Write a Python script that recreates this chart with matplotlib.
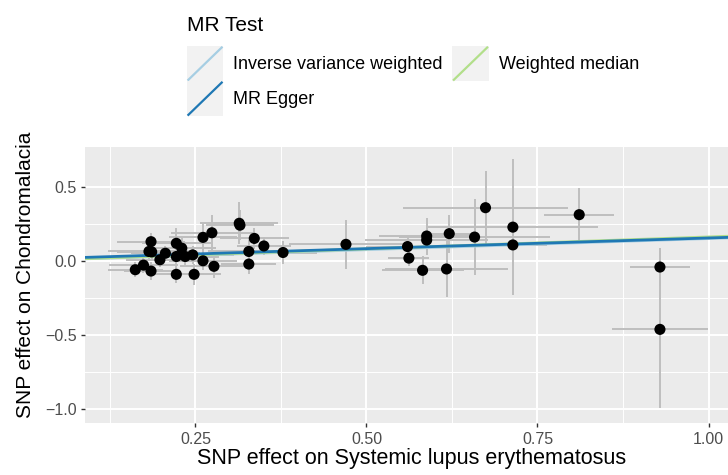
import matplotlib
matplotlib.use("Agg")
import matplotlib.pyplot as plt
import numpy as np
from matplotlib.legend_handler import HandlerBase
from matplotlib.patches import Rectangle
from matplotlib.lines import Line2D
from matplotlib.ticker import FixedLocator

plt.rcParams['font.family'] = ['Liberation Sans', 'DejaVu Sans']

# SNP effects (exposure: Systemic lupus erythematosus; outcome: Chondromalacia)
beta_exp = [0.162, 0.174, 0.185, 0.185, 0.182, 0.186, 0.198, 0.206, 0.222, 0.222,
            0.230, 0.222, 0.235, 0.246, 0.248, 0.261, 0.274, 0.261, 0.277, 0.314,
            0.315, 0.336, 0.328, 0.350, 0.328, 0.378, 0.470, 0.560, 0.562, 0.582,
            0.588, 0.588, 0.621, 0.617, 0.658, 0.674, 0.714, 0.714, 0.811, 0.929,
            0.929]
beta_out = [-0.060, -0.029, -0.069, 0.129, 0.063, 0.060, 0.007, 0.051, 0.118, 0.029,
            0.085, -0.091, 0.029, 0.040, -0.091, 0.158, 0.189, 0.000, -0.037, 0.253,
            0.240, 0.151, 0.063, 0.100, -0.022, 0.056, 0.111, 0.096, 0.018, -0.064,
            0.167, 0.140, 0.183, -0.055, 0.160, 0.358, 0.227, 0.107, 0.311, -0.042,
            -0.462]
se_exp = [0.040, 0.050, 0.040, 0.050, 0.060, 0.050, 0.050, 0.050, 0.050, 0.060,
          0.050, 0.040, 0.050, 0.060, 0.040, 0.050, 0.060, 0.050, 0.050, 0.057,
          0.050, 0.050, 0.060, 0.040, 0.040, 0.050, 0.083, 0.060, 0.030, 0.060,
          0.070, 0.090, 0.030, 0.090, 0.110, 0.120, 0.125, 0.050, 0.051, 0.044,
          0.070]
se_out = [0.050, 0.050, 0.060, 0.060, 0.050, 0.050, 0.050, 0.050, 0.100, 0.080,
          0.070, 0.060, 0.060, 0.060, 0.070, 0.100, 0.120, 0.060, 0.080, 0.140,
          0.100, 0.070, 0.080, 0.060, 0.070, 0.080, 0.165, 0.060, 0.050, 0.095,
          0.120, 0.100, 0.127, 0.190, 0.255, 0.245, 0.460, 0.140, 0.180, 0.130,
          0.530]

# MR estimates (method, intercept, slope)
methods = ["Inverse variance weighted", "MR Egger", "Weighted median"]
intercepts = [0.0, 0.0103, 0.0]
slopes = [0.150, 0.1436, 0.161]
colors = ["#a6cee3", "#1f78b4", "#b2df8a"]
draw_order = [0, 2, 1]

W, H = 728, 475
fig = plt.figure(figsize=(W / 100, H / 100), dpi=100)
ax = fig.add_axes([85 / W, (H - 423) / H, 643 / W, 276 / H])
ax.set_facecolor('#ebebeb')
for s in ax.spines.values():
    s.set_visible(False)

ax.set_xlim(0.0885, 1.0285)
ax.set_ylim(-1.093, 0.767)

ax.xaxis.set_major_locator(FixedLocator([0.25, 0.5, 0.75, 1.0]))
ax.xaxis.set_minor_locator(FixedLocator([0.125, 0.375, 0.625, 0.875]))
ax.yaxis.set_major_locator(FixedLocator([-1.0, -0.5, 0.0, 0.5]))
ax.yaxis.set_minor_locator(FixedLocator([-0.75, -0.25, 0.25]))
ax.set_xticklabels(['0.25', '0.50', '0.75', '1.00'])
ax.set_yticklabels(['\u22121.0', '\u22120.5', '0.0', '0.5'])
ax.grid(which='major', color='white', lw=1.4, zorder=0)
ax.grid(which='minor', color='white', lw=0.7, zorder=0)
ax.set_axisbelow(True)
ax.tick_params(which='major', length=3.2, width=1.0, color='#333333',
               labelcolor='#4d4d4d', labelsize=11.5, pad=3)
ax.tick_params(which='minor', length=0)

ax.errorbar(beta_exp, beta_out, xerr=se_exp, yerr=se_out, fmt='none',
            ecolor='#bebebe', elinewidth=1.4, capsize=0, zorder=2)

xx = np.array(ax.get_xlim())
line_handles = {}
for i in draw_order:
    ln, = ax.plot(xx, intercepts[i] + slopes[i] * xx, color=colors[i], lw=2.0,
                  zorder=3, label=methods[i])
    line_handles[i] = ln

ax.scatter(beta_exp, beta_out, s=64, color='black', zorder=4, edgecolors='none')

ax.set_xlabel('SNP effect on Systemic lupus erythematosus', fontsize=15.5, color='black')
ax.set_ylabel('SNP effect on Chondromalacia', fontsize=15, color='black')
ax.xaxis.set_label_coords((411.5 - 85) / 643, (423 - 448) / 276)
ax.yaxis.set_label_coords((35 - 85) / 643, (423 - 274.5) / 276)


class AblineHandler(HandlerBase):
    def create_artists(self, legend, orig_handle, xdescent, ydescent,
                       width, height, fontsize, trans):
        rect = Rectangle((-xdescent, -ydescent), width, height,
                         facecolor='#f2f2f2', edgecolor='none', transform=trans)
        ln = Line2D([-xdescent + 1, -xdescent + width - 1],
                    [-ydescent + 1, -ydescent + height - 1],
                    color=orig_handle.get_color(), lw=1.6, transform=trans)
        return [rect, ln]


leg = fig.legend([line_handles[i] for i in range(3)], methods, loc='upper left',
                 bbox_to_anchor=(187 / W, 1 - 16 / H), ncol=2, frameon=False,
                 title='MR Test', alignment='left', fontsize=13, title_fontsize=15,
                 handlelength=2.0, handleheight=2.61, labelspacing=0.0,
                 handletextpad=0.55, columnspacing=0.55, borderpad=0,
                 borderaxespad=0,
                 handler_map={Line2D: AblineHandler()})
leg._legend_box.sep = 8

fig.savefig('out.png', dpi=100)
